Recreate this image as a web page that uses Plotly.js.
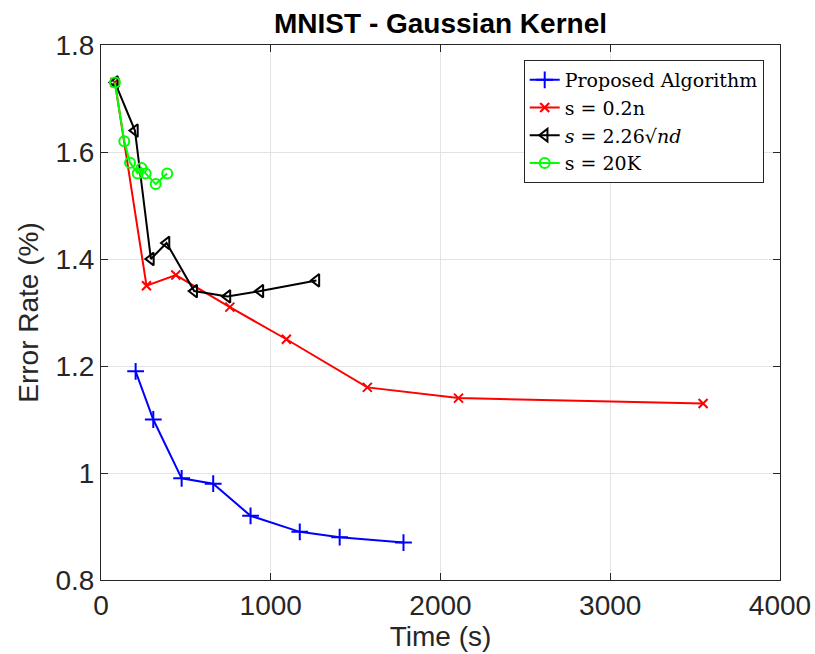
<!DOCTYPE html>
<html>
<head>
<meta charset="utf-8">
<script src="https://cdn.plot.ly/plotly-3.0.1.min.js"></script>
<style>html,body{margin:0;padding:0;background:#fff;}#chart{width:815px;height:654px;}</style>
</head>
<body>
<div id="chart"></div>
<script>
// Data
const proposedTime = [204, 308, 475, 661, 881, 1171, 1406, 1782];
const proposedErr  = [1.19, 1.10, 0.99, 0.98, 0.92, 0.89, 0.88, 0.87];

const s02nTime = [82, 268, 441, 759, 1092, 1569, 2106, 3547];
const s02nErr  = [1.73, 1.35, 1.37, 1.31, 1.25, 1.16, 1.14, 1.13];

const sqrtTime = [82, 200, 294, 386, 549, 745, 939, 1269];
const sqrtErr  = [1.73, 1.64, 1.40, 1.43, 1.34, 1.33, 1.34, 1.36];

const s20kTime = [82, 137, 171, 216, 239, 263, 322, 390];
const s20kErr  = [1.73, 1.62, 1.58, 1.56, 1.57, 1.56, 1.54, 1.56];

const seriesNames = ['Proposed Algorithm', 's = 0.2n', '<i>s</i> = 2.26√<i>nd</i>', 's = 20K'];
const xTicks = [0, 1000, 2000, 3000, 4000];
const yTicks = [0.8, 1, 1.2, 1.4, 1.6, 1.8];
const yTickText = ['0.8', '1', '1.2', '1.4', '1.6', '1.8'];

const traces = [
  {x: proposedTime, y: proposedErr, name: seriesNames[0], mode: 'lines+markers',
   line: {color: '#0000ff', width: 2}, marker: {symbol: 'cross-thin-open', size: 12, color: '#0000ff', line: {width: 2, color: '#0000ff'}}},
  {x: s02nTime, y: s02nErr, name: seriesNames[1], mode: 'lines+markers',
   line: {color: '#ff0000', width: 2}, marker: {symbol: 'x-thin-open', size: 9, color: '#ff0000', line: {width: 2, color: '#ff0000'}}},
  {x: sqrtTime, y: sqrtErr, name: seriesNames[2], mode: 'lines+markers',
   line: {color: '#000000', width: 2}, marker: {symbol: 'triangle-left-open', size: 11, color: '#000000', line: {width: 2, color: '#000000'}}},
  {x: s20kTime, y: s20kErr, name: seriesNames[3], mode: 'lines+markers',
   line: {color: '#00ff00', width: 2}, marker: {symbol: 'circle-open', size: 10, color: '#00ff00', line: {width: 2, color: '#00ff00'}}}
];

const axisFont = {family: 'Liberation Sans, Arial, sans-serif', size: 28, color: '#262626'};

const layout = {
  width: 815, height: 654,
  margin: {l: 101, r: 35, t: 45, b: 74},
  paper_bgcolor: '#ffffff', plot_bgcolor: '#ffffff',
  title: {text: '<b>MNIST - Gaussian Kernel</b>', x: 0.5405, xanchor: 'center', y: 0.965, yanchor: 'middle',
          font: {family: 'Liberation Sans, Arial, sans-serif', size: 28, color: '#000000'}},
  xaxis: {
    range: [0, 4000], tickvals: xTicks, ticktext: xTicks.map(String),
    showgrid: true, gridcolor: '#e3e3e3', gridwidth: 1, zeroline: false,
    showline: true, linecolor: '#262626', linewidth: 1, mirror: 'ticks',
    ticks: 'inside', ticklen: 7, tickcolor: '#262626',
    tickfont: axisFont,
    title: {text: 'Time (s)', font: axisFont, standoff: 4}
  },
  yaxis: {
    range: [0.8, 1.8], tickvals: yTicks, ticktext: yTickText,
    showgrid: true, gridcolor: '#e3e3e3', gridwidth: 1, zeroline: false,
    showline: true, linecolor: '#262626', linewidth: 1, mirror: 'ticks',
    ticks: 'inside', ticklen: 7, tickcolor: '#262626',
    tickfont: axisFont,
    title: {text: 'Error Rate (%)', font: axisFont, standoff: 8}
  },
  legend: {
    x: 0.976, xanchor: 'right', y: 0.972, yanchor: 'top',
    bgcolor: '#ffffff', bordercolor: '#262626', borderwidth: 1,
    font: {family: 'DejaVu Serif, Liberation Serif, serif', size: 19, color: '#000000'},
    tracegroupgap: 0
  },
  showlegend: true
};

Plotly.newPlot('chart', traces, layout, {displayModeBar: false, staticPlot: true});
</script>
</body>
</html>
